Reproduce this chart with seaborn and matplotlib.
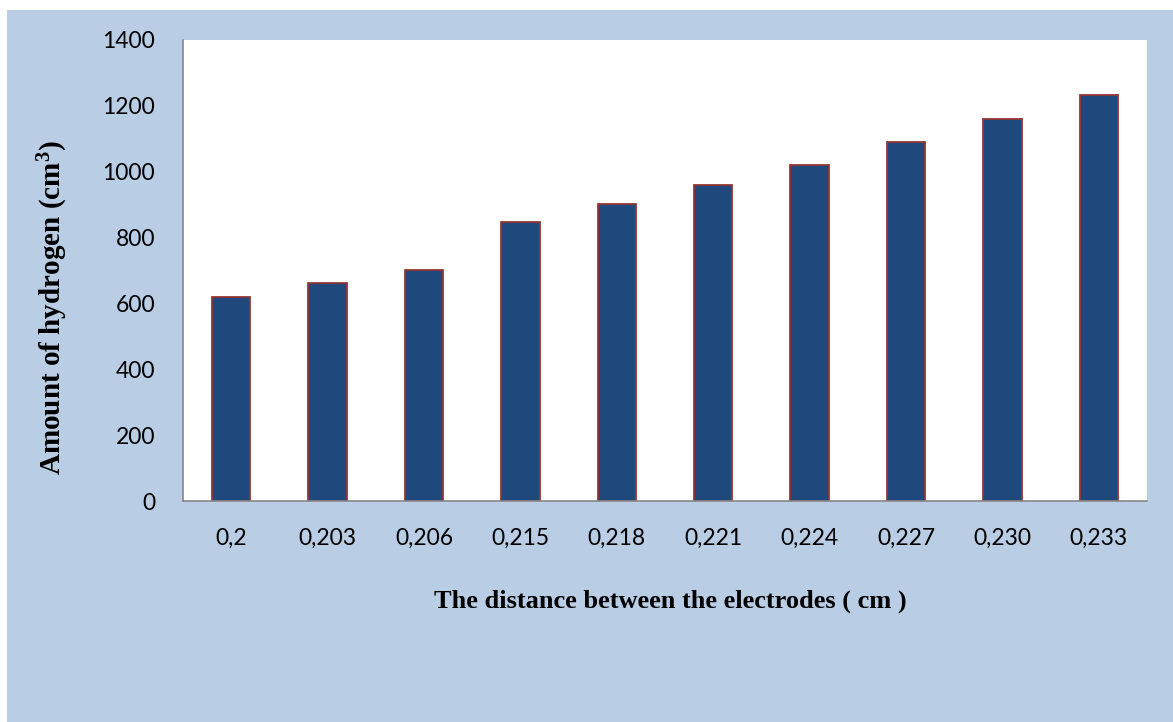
import matplotlib
matplotlib.use("Agg")
import matplotlib.pyplot as plt
import seaborn as sns
import pandas as pd
from matplotlib.patches import Rectangle

distances = ["0,2", "0,203", "0,206", "0,215", "0,218", "0,221", "0,224", "0,227", "0,230", "0,233"]
hydrogen = [620, 660, 702, 846, 900, 960, 1020, 1088, 1160, 1233]
y_ticks = [0, 200, 400, 600, 800, 1000, 1200, 1400]

df = pd.DataFrame({"distance": distances, "hydrogen": hydrogen})

sns.set_theme(style="white")
plt.rcParams["font.family"] = ["Lato", "DejaVu Sans"]
plt.rcParams["mathtext.fontset"] = "custom"
plt.rcParams["mathtext.rm"] = "Liberation Serif:bold"
plt.rcParams["mathtext.bf"] = "Liberation Serif:bold"
plt.rcParams["mathtext.it"] = "Liberation Serif:bold"
plt.rcParams["text.color"] = "black"

W, H = 1173, 722
fig = plt.figure(figsize=(W / 100, H / 100), dpi=100, facecolor="white")
bg = Rectangle((7 / W, 0), 1 - 7 / W, 1 - 10 / H, transform=fig.transFigure,
               facecolor="#b9cde5", edgecolor="none", zorder=-10)
fig.patches.append(bg)

ax = fig.add_axes([183 / W, (H - 501) / H, (1147 - 183) / W, (501 - 39.5) / H])
ax.set_facecolor("white")

sns.barplot(data=df, x="distance", y="hydrogen", ax=ax, color="#1f497d",
            edgecolor="#943634", linewidth=1.3, width=0.4, saturation=1)

ax.set_ylim(0, 1400)
ax.set_xlim(-0.5, len(distances) - 0.5)
ax.set_yticks(y_ticks)
ax.set_yticklabels([str(v) for v in y_ticks], fontsize=16.5, color="black")
ax.set_xticks(range(len(distances)))
ax.set_xticklabels(distances, fontsize=16.5, color="black")
ax.set_xticks([i - 0.5 for i in range(len(distances) + 1)], minor=True)
ax.tick_params(axis="x", which="major", length=0, pad=19)
ax.tick_params(axis="x", which="minor", length=7, width=1.2, color="#868686", direction="out")
ax.tick_params(axis="y", which="major", length=8, width=1.2, color="#868686", direction="out", pad=12)

for s in ["top", "right"]:
    ax.spines[s].set_visible(False)
for s in ["left", "bottom"]:
    ax.spines[s].set_visible(True)
    ax.spines[s].set_color("#868686")
    ax.spines[s].set_linewidth(1.2)

ax.set_xlabel("")
ax.set_ylabel("")
fig.text(670 / W, 1 - 608 / H, "The distance between the electrodes ( cm )",
         ha="center", va="baseline", fontsize=19, fontweight="bold",
         family=["Liberation Serif", "DejaVu Serif"])
fig.text(53 / W, 1 - 308 / H, r"Amount of hydrogen (cm$^{3}$)", rotation=90,
         ha="center", va="center", fontsize=21, fontweight="bold",
         family=["Liberation Serif", "DejaVu Serif"])

fig.savefig("out.png", dpi=100, facecolor="white")
